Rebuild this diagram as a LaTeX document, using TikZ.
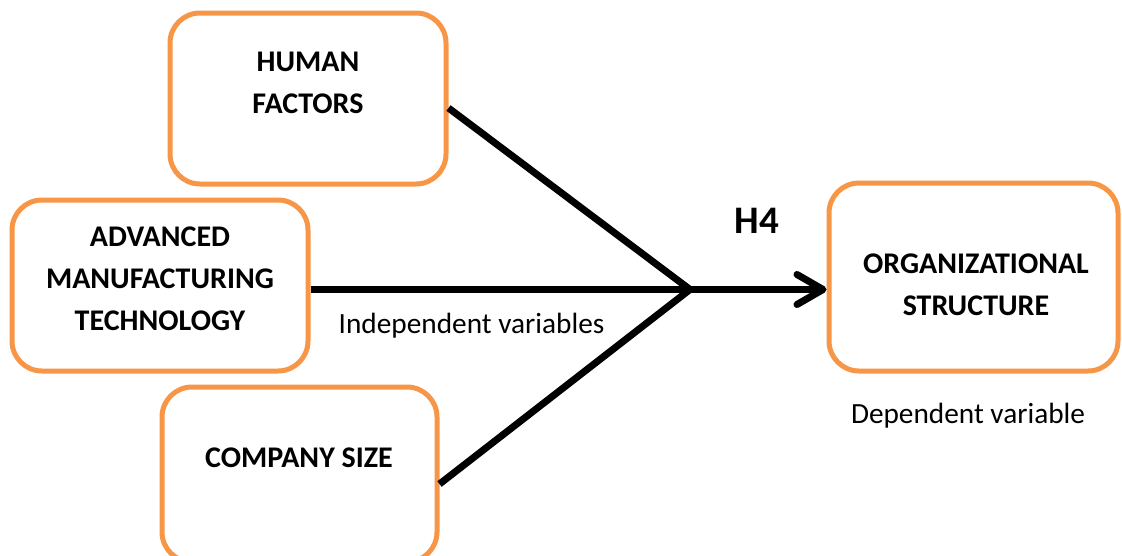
\documentclass[tikz,border=0pt]{standalone}
\usepackage{fontspec}
\setmainfont{Carlito}
\usetikzlibrary{arrows.meta,calc}
\definecolor{boxorange}{HTML}{F79646}
\begin{document}
\begin{tikzpicture}[x=1pt,y=-1pt,
  varbox/.style={draw=boxorange, fill=white, line width=5pt, rounded corners=30pt, inner sep=0pt},
  boxtext/.style={font=\fontsize{30}{42}\selectfont\bfseries, align=center, inner sep=0pt, anchor=base},
  note/.style={font=\fontsize{29.3}{34}\selectfont, inner sep=0pt, anchor=base},
  link/.style={line width=7pt, black}]
\useasboundingbox (0,0) rectangle (1122,555);

% variable boxes
\node[varbox, minimum width=276pt, minimum height=171pt] (hf) at (308,98.5) {};
\node[varbox, minimum width=296pt, minimum height=171pt] (amt) at (160,285.5) {};
\node[varbox, minimum width=275pt, minimum height=175pt] (cs) at (299.5,474.5) {};
\node[varbox, minimum width=289pt, minimum height=188pt] (os) at (973.5,277) {};

% box captions (anchored at the baseline of the last line)
\node[boxtext] (hft) at (308,113) {HUMAN\\FACTORS};
\node[boxtext] (amtt) at (160,330) {ADVANCED\\MANUFACTURING\\TECHNOLOGY};
\node[boxtext] (cst) at (299,467) {COMPANY SIZE};
\node[boxtext] (ost) at (976,315) {ORGANIZATIONAL\\STRUCTURE};

% hypothesis and group labels
\node[font=\fontsize{39}{44}\selectfont\bfseries, inner sep=0pt, anchor=base] (h4) at (757,233) {H4};
\node[note] (iv) at (471.5,333) {Independent variables};
\node[note] (dv) at (968,423) {Dependent variable};

% connectors
\coordinate (j) at (690,289.5);
\draw[link] ($(hf.east)+(0,9.5)$) -- (j);
\draw[link] ($(cs.east)+(0,9.5)$) -- (j);
\draw[link, -{Straight Barb[length=26pt, width=30pt, line width=7pt, round]}]
  ($(amt.east)+(0,4)$) -- ($(os.west)+(0,12.5)$);
\end{tikzpicture}
\end{document}
